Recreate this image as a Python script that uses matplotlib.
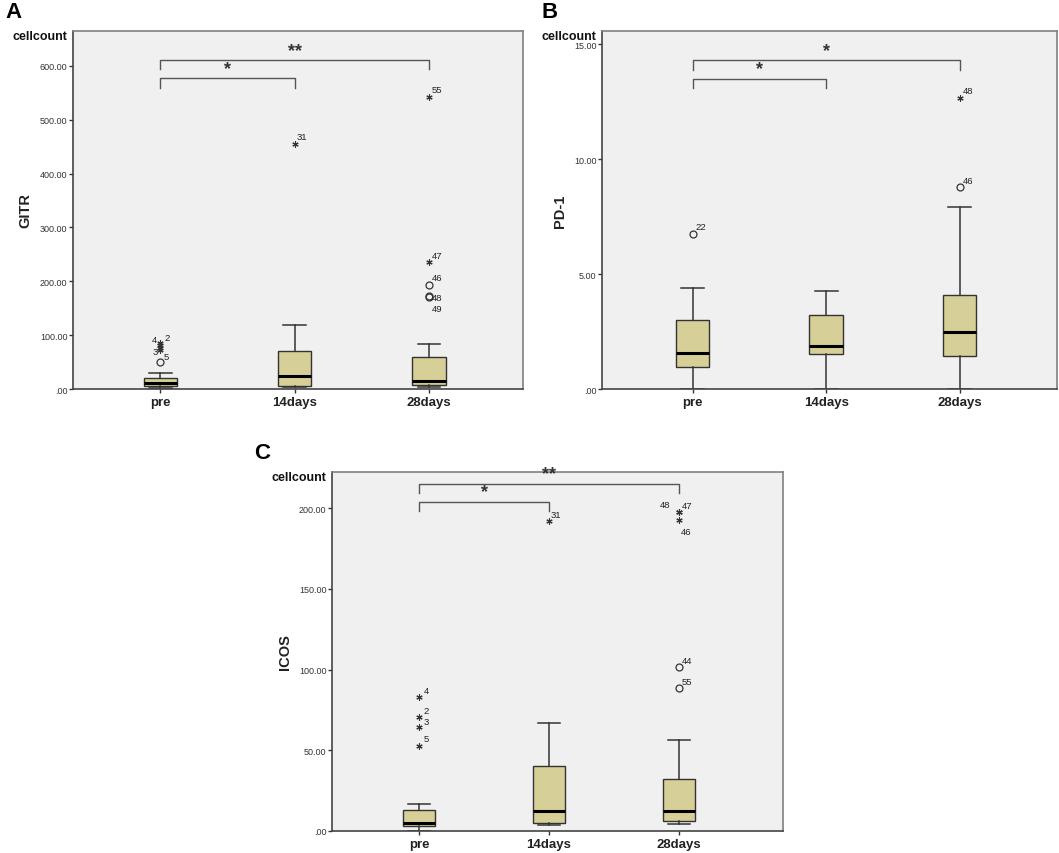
import matplotlib
matplotlib.use("Agg")
import matplotlib.pyplot as plt
from matplotlib.ticker import FuncFormatter

plt.rcParams['font.family'] = ['Liberation Sans', 'DejaVu Sans']

categories = ["pre", "14days", "28days"]

# Panel A: GITR
gitr_whislo = [1, 3, 3]
gitr_q1 = [5, 6, 8]
gitr_med = [11, 25, 15.5]
gitr_q3 = [20, 71, 60]
gitr_whishi = [30, 119, 83]
gitr_out_group = [0, 0, 0, 0, 0, 1, 2, 2, 2, 2, 2]
gitr_out_value = [51, 85, 81, 77, 73, 456, 543, 235, 194, 173, 171]
gitr_out_kind = ["o", "*", "*", "*", "*", "*", "*", "*", "o", "o", "o"]
gitr_out_label = ["", "4", "2", "3", "5", "31", "55", "47", "46", "48", "49"]

# Panel B: PD-1
pd1_whislo = [0, 0, 0]
pd1_q1 = [0.97, 1.54, 1.42]
pd1_med = [1.57, 1.86, 2.46]
pd1_q3 = [3.01, 3.22, 4.09]
pd1_whishi = [4.38, 4.26, 7.93]
pd1_out_group = [0, 2, 2]
pd1_out_value = [6.75, 8.77, 12.67]
pd1_out_kind = ["o", "o", "*"]
pd1_out_label = ["22", "46", "48"]

# Panel C: ICOS
icos_whislo = [0, 3.5, 4.1]
icos_q1 = [3.1, 5.2, 6.2]
icos_med = [4.8, 12.2, 12.2]
icos_q3 = [12.8, 40.1, 32]
icos_whishi = [16.5, 67, 56.3]
icos_out_group = [0, 0, 0, 0, 1, 2, 2, 2, 2, 2]
icos_out_value = [82.7, 70.9, 64.3, 52.9, 191.7, 197.8, 197.3, 192.6, 101.5, 88.3]
icos_out_kind = ["*", "*", "*", "*", "*", "*", "*", "*", "o", "o"]
icos_out_label = ["4", "2", "3", "5", "31", "48", "47", "46", "44", "55"]

# significance brackets: (from group, to group, bar level, tick drop, text)
gitr_sig = [(0, 1, 577, 17, "*"), (0, 2, 611, 17, "**")]
pd1_sig = [(0, 1, 13.5, 0.4, "*"), (0, 2, 14.3, 0.4, "*")]
icos_sig = [(0, 1, 204, 5.6, "*"), (0, 2, 215, 5.6, "**")]

# label offsets (points) for outlier labels
gitr_lab_off = [(0, 0), (-4, 3), (5, 6), (-4, -3), (4, -5), (5, 5), (6, 5), (6, 5), (6, 5), (6, -1), (6, -8)]
pd1_lab_off = [(6, 5), (6, 5), (6, 5)]
icos_lab_off = [(5, 5), (5, 4), (5, 4), (5, 5), (5, 5), (-10, 5), (6, 5), (5, -8), (6, 5), (6, 5)]

W, H = 1059, 854
fig = plt.figure(figsize=(W / 100, H / 100), dpi=100)

BOX = "#d6cf97"
EDGE = "#333333"
BG = "#f0f0f0"


def fmt(v, pos):
    s = f"{v:.2f}"
    if s.startswith("0."):
        s = s[1:]
    return s


def panel(rect, whislo, q1, med, q3, whishi, og, ov, ok, ol, loff, sig,
          ylim, yticks, ylabel, xlim, letter, letter_xy):
    ax = fig.add_axes(rect)
    ax.set_facecolor(BG)
    stats = []
    for i in range(3):
        stats.append(dict(whislo=whislo[i], q1=q1[i], med=med[i], q3=q3[i],
                          whishi=whishi[i], fliers=[], label=categories[i]))
    ax.bxp(stats, positions=[1, 2, 3], widths=0.25, capwidths=0.17,
           showfliers=False, patch_artist=True,
           boxprops=dict(facecolor=BOX, edgecolor=EDGE, linewidth=1.0),
           medianprops=dict(color="black", linewidth=2.2),
           whiskerprops=dict(color=EDGE, linewidth=1.1),
           capprops=dict(color=EDGE, linewidth=1.1))
    for g, v, k, lab, off in zip(og, ov, ok, ol, loff):
        x = g + 1
        if k == "o":
            ax.plot([x], [v], marker="o", markersize=5, markerfacecolor="none",
                    markeredgecolor="#333333", markeredgewidth=0.9, linestyle="none")
        else:
            ax.plot([x], [v], marker=(6, 2, 0), markersize=4.5,
                    markeredgecolor="#333333", markeredgewidth=0.8, linestyle="none")
        if lab:
            ax.annotate(lab, (x, v), xytext=off, textcoords="offset points",
                        fontsize=6.8, color="#222222", ha="center", va="center")
    for a, b, lvl, drop, txt in sig:
        xa, xb = a + 1, b + 1
        ax.plot([xa, xa, xb, xb], [lvl - drop, lvl, lvl, lvl - drop],
                color="#555555", linewidth=1.0, clip_on=False)
        ax.annotate(txt, ((xa + xb) / 2, lvl), xytext=(0, 1), textcoords="offset points",
                    ha="center", va="bottom", fontsize=13, fontweight="bold",
                    color="#333333", annotation_clip=False)
    ax.set_ylim(*ylim)
    ax.set_xlim(*xlim)
    ax.set_yticks(yticks)
    ax.yaxis.set_major_formatter(FuncFormatter(fmt))
    ax.set_xticks([1, 2, 3])
    ax.set_xticklabels(categories, fontsize=9.5, fontweight="bold", color="#222222")
    ax.tick_params(axis="y", labelsize=6.5, length=3, width=1, colors="#333333",
                   pad=1)
    ax.tick_params(axis="x", length=3, width=1, colors="#333333", pad=2)
    for lab in ax.get_xticklabels():
        lab.set_color("#222222")
    ax.set_ylabel(ylabel, fontsize=10.5, fontweight="bold", color="#222222", labelpad=5)
    for s in ["left", "bottom"]:
        ax.spines[s].set_color("#444444")
        ax.spines[s].set_linewidth(1.2)
    for s in ["top", "right"]:
        ax.spines[s].set_color("#808080")
        ax.spines[s].set_linewidth(1.2)
    ax.annotate("cellcount", (0, 1), xycoords="axes fraction", xytext=(-4, -3.5),
                textcoords="offset points", ha="right", va="center",
                fontsize=9, fontweight="bold", color="#111111")
    fig.text(letter_xy[0] / W, 1 - letter_xy[1] / H, letter, fontsize=16,
             fontweight="bold", ha="center", va="center")
    return ax


panel([73 / W, 1 - 390 / H, 450 / W, 358 / H],
      gitr_whislo, gitr_q1, gitr_med, gitr_q3, gitr_whishi,
      gitr_out_group, gitr_out_value, gitr_out_kind, gitr_out_label, gitr_lab_off,
      gitr_sig, (0, 665), [0, 100, 200, 300, 400, 500, 600], "GITR",
      (0.35, 3.70), "A", (13, 13))

panel([602 / W, 1 - 390 / H, 455 / W, 358 / H],
      pd1_whislo, pd1_q1, pd1_med, pd1_q3, pd1_whishi,
      pd1_out_group, pd1_out_value, pd1_out_kind, pd1_out_label, pd1_lab_off,
      pd1_sig, (0, 15.58), [0, 5, 10, 15], "PD-1",
      (0.32, 3.73), "B", (550, 13))

panel([332 / W, 1 - 832 / H, 451 / W, 359 / H],
      icos_whislo, icos_q1, icos_med, icos_q3, icos_whishi,
      icos_out_group, icos_out_value, icos_out_kind, icos_out_label, icos_lab_off,
      icos_sig, (0, 222.3), [0, 50, 100, 150, 200], "ICOS",
      (0.33, 3.80), "C", (262, 454))

fig.savefig("out.png", dpi=100, facecolor="white")
